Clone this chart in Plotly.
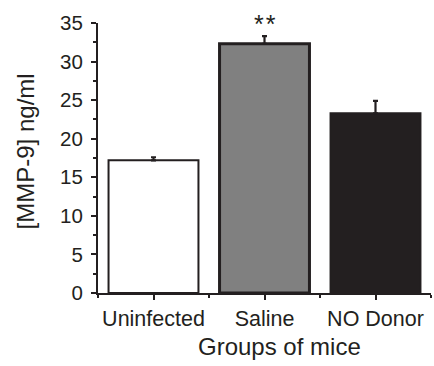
import plotly.graph_objects as go

# MMP-9 concentration per group of mice
groups = ["Uninfected", "Saline", "NO Donor"]
mmp9 = [17.2, 32.3, 23.3]
sem = [0.4, 1.0, 1.6]
fills = ["#ffffff", "#808080", "#231f20"]
outline_w = [2, 3, 2]
y_ticks = [0, 5, 10, 15, 20, 25, 30, 35]

ink = "#231f20"
font = "Liberation Sans, Arial, sans-serif"
pos = list(range(len(groups)))

fig = go.Figure()
fig.add_trace(go.Bar(
    x=pos, y=mmp9, width=0.81,
    marker=dict(color=fills, line=dict(color=ink, width=outline_w)),
    error_y=dict(type="data", symmetric=False, array=sem,
                 arrayminus=[0] * len(sem), color=ink, thickness=2.2, width=2.5),
    showlegend=False, hoverinfo="skip",
))

# significance marker above the Saline group
fig.add_annotation(x=1, y=0.995, xref="x", yref="paper", text="*\u200a*", showarrow=False,
                   yanchor="middle", font=dict(size=25, color=ink, family=font))

# axis titles
fig.add_annotation(x=0.545, y=-0.14, xref="paper", yref="paper", text="Groups of mice",
                   showarrow=False, yanchor="top", font=dict(size=24, color=ink, family=font))
fig.add_annotation(x=-0.215, y=0.526, xref="paper", yref="paper", text="[MMP-9] ng/ml",
                   textangle=-90, showarrow=False, xanchor="center",
                   font=dict(size=24, color=ink, family=font))

fig.update_layout(
    width=434, height=366,
    margin=dict(l=98, r=3, t=23, b=73),
    paper_bgcolor="white", plot_bgcolor="white",
    font=dict(family=font, color=ink),
    bargap=0.19,
)
fig.update_xaxes(
    range=[-0.5, 2.5], tickvals=pos, ticktext=groups,
    showline=True, linecolor=ink, linewidth=2,
    ticks="outside", ticklen=5, tickwidth=1.5, tickcolor=ink,
    minor=dict(ticks="outside", tick0=0.5, dtick=1, ticklen=3, tickwidth=1.5, tickcolor=ink),
    tickfont=dict(size=21.5, color=ink, family=font),
    showgrid=False, zeroline=False,
)
fig.update_yaxes(
    range=[0, 35], tickvals=y_ticks,
    showline=True, linecolor=ink, linewidth=2,
    ticks="outside", ticklen=5, tickwidth=1.5, tickcolor=ink,
    minor=dict(ticks="outside", dtick=2.5, ticklen=3, tickwidth=1.5, tickcolor=ink),
    tickfont=dict(size=20.5, color=ink, family=font),
    ticklabelstandoff=4,
    showgrid=False, zeroline=False,
)

fig.write_html("out.html")
